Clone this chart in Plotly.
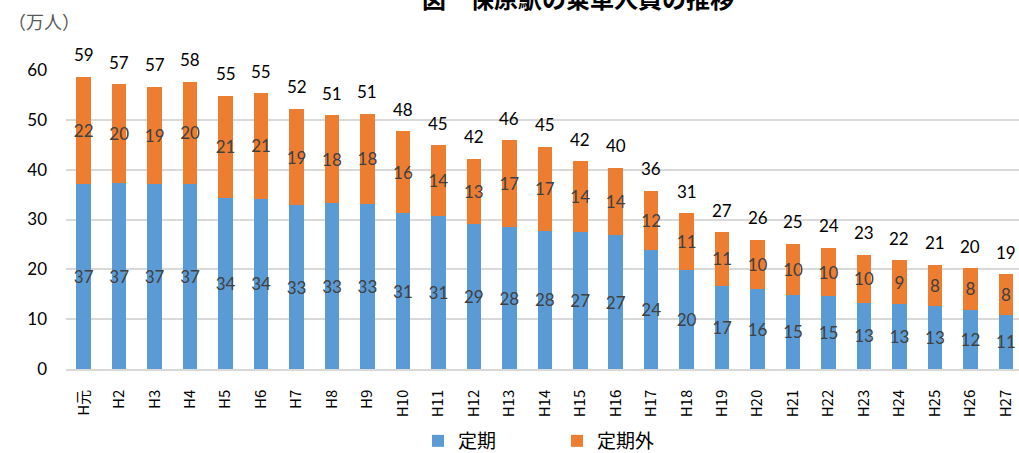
import plotly.graph_objects as go

# 年度（平成）
years = ["H元", "H2", "H3", "H4", "H5", "H6", "H7", "H8", "H9", "H10",
         "H11", "H12", "H13", "H14", "H15", "H16", "H17", "H18", "H19", "H20",
         "H21", "H22", "H23", "H24", "H25", "H26", "H27"]

# 乗車人員（万人）
teiki = [37.06, 37.26, 37.19, 37.19, 34.32, 34.18, 32.85, 33.31, 33.18, 31.3,
         30.64, 29.16, 28.45, 27.7, 27.49, 26.89, 23.82, 19.8, 16.72, 15.99,
         14.91, 14.55, 13.31, 13.04, 12.55, 11.91, 10.9]
teikigai = [21.6, 19.93, 19.46, 20.47, 20.53, 21.14, 19.33, 17.6, 18.06, 16.4,
            14.24, 13.05, 17.45, 16.85, 14.25, 13.51, 11.96, 11.45, 10.71, 9.96,
            10.24, 9.75, 9.57, 8.77, 8.35, 8.3, 8.1]

totals = [a + b for a, b in zip(teiki, teikigai)]

y_ticks = [0, 10, 20, 30, 40, 50, 60]

BLUE = "#5B9BD5"
ORANGE = "#ED7D31"
NUM_FONT = "Lato, 'Noto Sans CJK JP', sans-serif"
JP_FONT = "'Noto Sans CJK JP', sans-serif"

W, H = 1019, 453
ML, MR, MT, MB = 66, 0, 70, 84
PW, PH = W - ML - MR, H - MT - MB

fig = go.Figure()

for name, vals, color in [("定期", teiki, BLUE), ("定期外", teikigai, ORANGE)]:
    fig.add_trace(go.Bar(
        x=years, y=vals, name=name,
        marker=dict(color=color, line=dict(width=0)),
        texttemplate="%{y:.0f}",
        textposition="inside",
        insidetextanchor="middle",
        textangle=0,
        constraintext="none",
        textfont=dict(family=NUM_FONT, size=17, color="#404040"),
        hoverinfo="x+y+name",
    ))

# 合計値ラベル
for yr, t in zip(years, totals):
    fig.add_annotation(
        x=yr, y=t, xref="x", yref="y",
        text=f"{t:.0f}", showarrow=False,
        yshift=22, font=dict(family=NUM_FONT, size=17, color="#000000"),
    )

# 単位
fig.add_annotation(
    text="（万人）", showarrow=False,
    xref="paper", yref="paper",
    x=(6 - ML) / PW, xanchor="left",
    y=1 + (MT - 21) / PH, yanchor="middle",
    font=dict(family=JP_FONT, size=18, color="#595959"),
)

fig.update_layout(
    width=W, height=H,
    margin=dict(l=ML, r=MR, t=MT, b=MB, autoexpand=False),
    paper_bgcolor="white", plot_bgcolor="white",
    barmode="stack",
    bargap=0.59,
    title=dict(
        text="<b>図　保原駅の乗車人員の推移</b>",
        x=(578 - ML) / PW, xanchor="center", xref="paper",
        y=1.0, yanchor="middle", yref="container",
        font=dict(family=JP_FONT, size=24, color="#000000"),
    ),
    showlegend=True,
    legend=dict(
        orientation="h",
        x=(418 - ML) / PW, xanchor="left",
        yref="container", y=1 - 441 / H, yanchor="middle",
        entrywidth=94, entrywidthmode="pixels",
        font=dict(family=JP_FONT, size=19, color="#000000"),
        itemclick=False, itemdoubleclick=False,
        traceorder="normal",
    ),
    xaxis=dict(
        type="category",
        range=[-0.5, 26.37],
        tickangle=-90,
        tickfont=dict(family=JP_FONT, size=15, color="#000000"),
        ticks="",
        ticklabelstandoff=13,
        showgrid=False,
        showline=True, linecolor="#D9D9D9", linewidth=1.5,
        fixedrange=True,
    ),
    yaxis=dict(
        range=[0, 60],
        tickvals=y_ticks,
        tickfont=dict(family=NUM_FONT, size=17, color="#000000"),
        ticks="",
        ticklabelstandoff=18,
        showgrid=True, gridcolor="#D9D9D9", gridwidth=1.5,
        zeroline=False,
        showline=False,
        fixedrange=True,
    ),
)

fig.write_html("out.html")
